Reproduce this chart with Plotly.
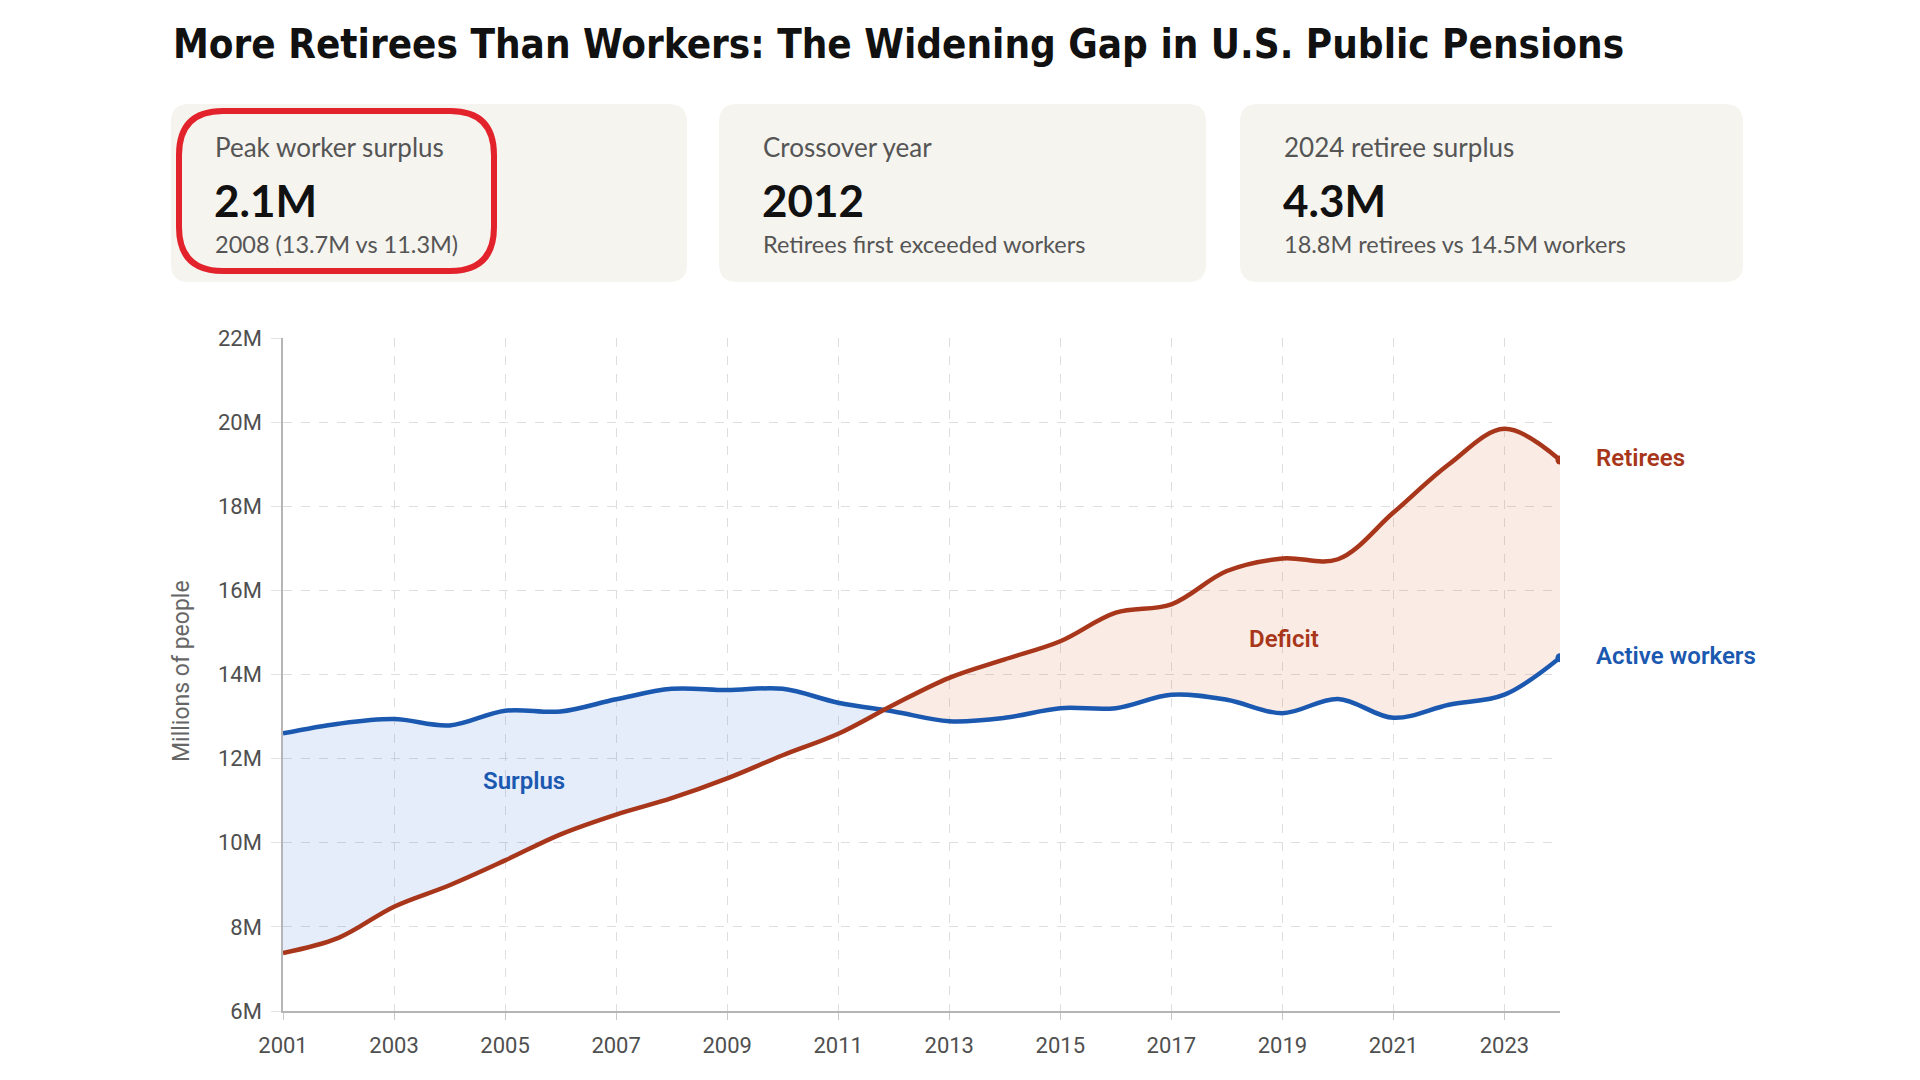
import plotly.graph_objects as go

# ---------------- data ----------------
years = list(range(2001, 2025))
workers = [12.6, 12.83, 12.94, 12.79, 13.14, 13.12, 13.41, 13.66, 13.63, 13.66, 13.33, 13.12,
           12.89, 12.97, 13.2, 13.2, 13.52, 13.4, 13.08, 13.42, 12.97, 13.28, 13.52, 14.4]
retirees = [7.38, 7.74, 8.48, 8.99, 9.58, 10.2, 10.67, 11.06, 11.53, 12.08, 12.59, 13.28,
            13.92, 14.36, 14.79, 15.47, 15.67, 16.46, 16.76, 16.74, 17.85, 19.0, 19.84, 19.1]
y_ticks = [6, 8, 10, 12, 14, 16, 18, 20, 22]
x_ticks = list(range(2001, 2024, 2))

title_text = "More Retirees Than Workers: The Widening Gap in U.S. Public Pensions"
cards = [
    ("Peak worker surplus", "2.1M", "2008 (13.7M vs 11.3M)"),
    ("Crossover year", "2012", "Retirees first exceeded workers"),
    ("2024 retiree surplus", "4.3M", "18.8M retirees vs 14.5M workers"),
]

# ---------------- styling ----------------
BLUE = "#1b58b0"
RED = "#a8361a"
BLUE_FILL = "rgba(40,110,220,0.12)"
RED_FILL = "rgba(215,100,50,0.13)"
W, H = 1920, 1080
L, R, T, B = 283, 1560, 338, 1011


def px(xp):
    return (xp - L) / (R - L)


def py(yp):
    return (B - yp) / (B - T)


def rrect(x0, y0, x1, y1, r):
    def P(a, b):
        return f"{px(a):.5f},{py(b):.5f}"
    return (f"M {P(x0 + r, y0)} L {P(x1 - r, y0)} Q {P(x1, y0)} {P(x1, y0 + r)} "
            f"L {P(x1, y1 - r)} Q {P(x1, y1)} {P(x1 - r, y1)} L {P(x0 + r, y1)} "
            f"Q {P(x0, y1)} {P(x0, y1 - r)} L {P(x0, y0 + r)} Q {P(x0, y0)} {P(x0 + r, y0)} Z")


# ---------------- split at the crossover ----------------
k = next(i for i in range(len(years) - 1)
         if (workers[i] - retirees[i]) * (workers[i + 1] - retirees[i + 1]) < 0)
d0 = workers[k] - retirees[k]
d1 = workers[k + 1] - retirees[k + 1]
t = d0 / (d0 - d1)
xc = years[k] + t * (years[k + 1] - years[k])
yc = workers[k] + t * (workers[k + 1] - workers[k])

xa = years[:k + 1] + [xc]
wa = workers[:k + 1] + [yc]
ra = retirees[:k + 1] + [yc]
xb = [xc] + years[k + 1:]
wb = [yc] + workers[k + 1:]
rb = [yc] + retirees[k + 1:]

fig = go.Figure()
line_kw = dict(shape="spline", smoothing=1.0)

fig.add_trace(go.Scatter(x=xa, y=ra, mode="lines", line=dict(width=0, **line_kw), hoverinfo="skip"))
fig.add_trace(go.Scatter(x=xa, y=wa, mode="lines", line=dict(width=0, **line_kw),
                         fill="tonexty", fillcolor=BLUE_FILL, hoverinfo="skip"))
fig.add_trace(go.Scatter(x=xb, y=wb, mode="lines", line=dict(width=0, **line_kw), hoverinfo="skip"))
fig.add_trace(go.Scatter(x=xb, y=rb, mode="lines", line=dict(width=0, **line_kw),
                         fill="tonexty", fillcolor=RED_FILL, hoverinfo="skip"))

fig.add_trace(go.Scatter(x=years, y=workers, mode="lines", name="Active workers",
                         line=dict(color=BLUE, width=4.5, **line_kw)))
fig.add_trace(go.Scatter(x=years, y=retirees, mode="lines", name="Retirees",
                         line=dict(color=RED, width=4.5, **line_kw)))
fig.add_trace(go.Scatter(x=[years[-1]], y=[workers[-1]], mode="markers",
                         marker=dict(color=BLUE, size=9)))
fig.add_trace(go.Scatter(x=[years[-1]], y=[retirees[-1]], mode="markers",
                         marker=dict(color=RED, size=9)))

# ---------------- shapes: cards ----------------
shapes = []
card_boxes = [(171, 104, 687, 282), (719, 104, 1206, 282), (1240, 104, 1743, 282)]
for (x0, y0, x1, y1) in card_boxes:
    shapes.append(dict(type="path", xref="paper", yref="paper", path=rrect(x0, y0, x1, y1, 18),
                       fillcolor="#f6f4ef", line=dict(width=0), layer="below"))
shapes.append(dict(type="path", xref="paper", yref="paper", path=rrect(179, 111, 494, 271, 44),
                   fillcolor="rgba(0,0,0,0)", line=dict(color="#e3232b", width=6), layer="above"))

# ---------------- annotations ----------------
ann = []
ann.append(dict(text=f"<b>{title_text}</b>", x=px(171), y=py(44), xref="paper", yref="paper",
                xanchor="left", yanchor="middle", showarrow=False,
                font=dict(family="DejaVu Sans Condensed, DejaVu Sans, sans-serif",
                          size=40, color="#111111")))
for (x0, y0, x1, y1), (lab, val, sub) in zip(card_boxes, cards):
    xt = x0 + 42
    ann.append(dict(text=lab, x=px(xt), y=py(147), xref="paper", yref="paper", xanchor="left",
                    yanchor="middle", showarrow=False,
                    font=dict(family="Lato, sans-serif", size=26, color="#555555")))
    ann.append(dict(text=f"<b>{val}</b>", x=px(xt - 1), y=py(200), xref="paper", yref="paper",
                    xanchor="left", yanchor="middle", showarrow=False,
                    font=dict(family="Lato, sans-serif", size=44, color="#111111")))
    ann.append(dict(text=sub, x=px(xt), y=py(244), xref="paper", yref="paper", xanchor="left",
                    yanchor="middle", showarrow=False,
                    font=dict(family="Lato, sans-serif", size=23.5, color="#555555")))

ann.append(dict(text="Millions of people", x=px(181), y=py(671), xref="paper", yref="paper",
                xanchor="center", yanchor="middle", textangle=-90, showarrow=False,
                font=dict(family="Roboto, sans-serif", size=23, color="#666666")))
ann.append(dict(text="Surplus", x=px(524), y=py(781), xref="paper", yref="paper",
                xanchor="center", yanchor="middle", showarrow=False,
                font=dict(family="Roboto, sans-serif", size=24, color=BLUE, weight=600)))
ann.append(dict(text="Deficit", x=px(1284), y=py(639), xref="paper", yref="paper",
                xanchor="center", yanchor="middle", showarrow=False,
                font=dict(family="Roboto, sans-serif", size=24, color=RED, weight=600)))
ann.append(dict(text="Retirees", x=px(1594), y=py(458), xref="paper", yref="paper",
                xanchor="left", yanchor="middle", showarrow=False,
                font=dict(family="Roboto, sans-serif", size=24, color=RED, weight=600)))
ann.append(dict(text="Active workers", x=px(1594), y=py(656), xref="paper", yref="paper",
                xanchor="left", yanchor="middle", showarrow=False,
                font=dict(family="Roboto, sans-serif", size=24, color=BLUE, weight=600)))

fig.update_layout(
    width=W, height=H,
    margin=dict(l=L, r=W - R, t=T, b=H - B, pad=0),
    paper_bgcolor="white", plot_bgcolor="white",
    showlegend=False,
    shapes=shapes, annotations=ann,
    font=dict(family="Roboto, sans-serif", color="#555555"),
    xaxis=dict(range=[2001, 2024], tickvals=x_ticks, ticktext=[str(v) for v in x_ticks],
               showgrid=True, gridcolor="#dedede", griddash="dash", gridwidth=1,
               showline=True, linecolor="#b5b5b5", linewidth=1.5,
               ticks="outside", ticklen=7, tickcolor="#c8c8c8", ticklabelstandoff=7,
               tickfont=dict(size=22, color="#4f4f4f"), zeroline=False),
    yaxis=dict(range=[6, 22], tickvals=y_ticks, ticktext=[f"{v}M" for v in y_ticks],
               showgrid=True, gridcolor="#dedede", griddash="dash", gridwidth=1,
               showline=True, linecolor="#b5b5b5", linewidth=1.5,
               ticks="outside", ticklen=10, tickcolor="#e3e3e3", ticklabelstandoff=5,
               tickfont=dict(size=22, color="#4f4f4f"), zeroline=False),
)

fig.write_html("out.html")
